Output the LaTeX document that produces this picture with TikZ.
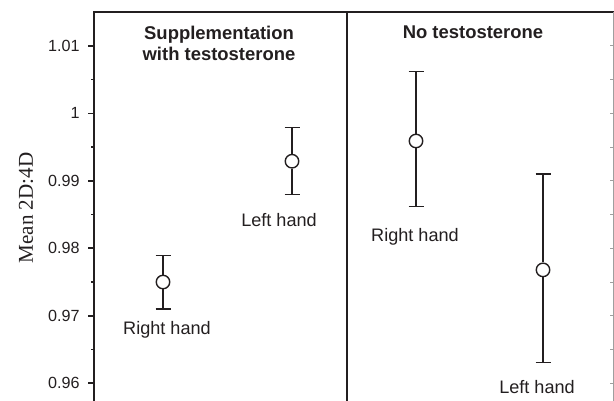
\documentclass[tikz,border=0pt]{standalone}
\usepackage{fontspec}
\setmainfont{Liberation Sans}
\newfontfamily\timesfont{Liberation Serif}
\usetikzlibrary{positioning}

\definecolor{ink}{HTML}{231F20}

\begin{document}
\begin{tikzpicture}[x=0.02cm, y=1.35cm,
    ax/.style={draw=ink, line width=0.9pt},
    rim/.style={draw=gray!75, line width=0.5pt},
    bar/.style={draw=ink, line width=0.8pt},
    meanpt/.style={circle, draw=ink, fill=white, line width=0.8pt, minimum size=0.27cm, inner sep=0pt},
    handlbl/.style={font=\fontsize{10.3}{12}\selectfont, text=ink},
    ticklbl/.style={font=\fontsize{9.2}{11}\selectfont, anchor=east, inner sep=0pt, text=ink},
    paneltitle/.style={font=\fontsize{10.5}{12}\selectfont\bfseries, align=center, text=ink}]
    \useasboundingbox (0,-0.262) rectangle (614,5.679);

    % Axes and panels
    \draw [ax] (94,-0.262) -- (94,5.501) -- (614,5.501);
    \draw [ax] (347,-0.262) -- (347,5.501);
    \draw [rim] (613,-0.262) -- (613,5.501);
    \foreach \v/\t in {0/0.96,1/0.97,2/0.98,3/0.99,4/1,5/1.01} {
        \draw [ax] (88,\v) -- (94,\v);
        \node [ticklbl] at (80,\v) {\t};
    }
    \foreach \v in {0.5,1.5,...,4.5}
        \draw [ax] (91,\v) -- (94,\v);
    \foreach \v in {0,0.5,...,5}
        \draw [rim] (610,\v) -- (613,\v);

    \node [font=\timesfont\fontsize{12}{14}\selectfont, rotate=90, text=ink] (ylbl) at (26,2.597) {Mean 2D:4D};

    % Panel titles
    \node [paneltitle] (swt) at (219,5.034) {Supplementation\\with testosterone};
    \node [paneltitle] (nt) at (473,5.204) {No testosterone};

    % Means with error bars
    \foreach \n/\x/\hi/\m/\lo in {sr/163/1.89/1.50/1.10, sl/292/3.79/3.29/2.80,
                                  nr/416/4.62/3.59/2.62, nl/543/3.10/1.68/0.31} {
        \coordinate (\n top) at (\x,\hi);
        \coordinate (\n bot) at (\x,\lo);
        \node [meanpt] (\n mean) at (\x,\m) {};
        \draw [bar] (\n top) -- (\n mean) (\n mean) -- (\n bot);
        \draw [bar] (\n top) ++(-7.5,0) -- ++(15,0);
        \draw [bar] (\n bot) ++(-7.5,0) -- ++(15,0);
    }

    % Hand labels
    \node [handlbl, below of=srbot, node distance=0.41cm, xshift=0.08cm] (srlbl) {Right hand};
    \node [handlbl, below of=slbot, node distance=0.52cm, xshift=-0.26cm] (sllbl) {Left hand};
    \node [handlbl, below of=nrbot, node distance=0.61cm, xshift=-0.02cm] (nrlbl) {Right hand};
    \node [handlbl, below of=nlbot, node distance=0.49cm, xshift=-0.12cm] (nllbl) {Left hand};
\end{tikzpicture}
\end{document}
